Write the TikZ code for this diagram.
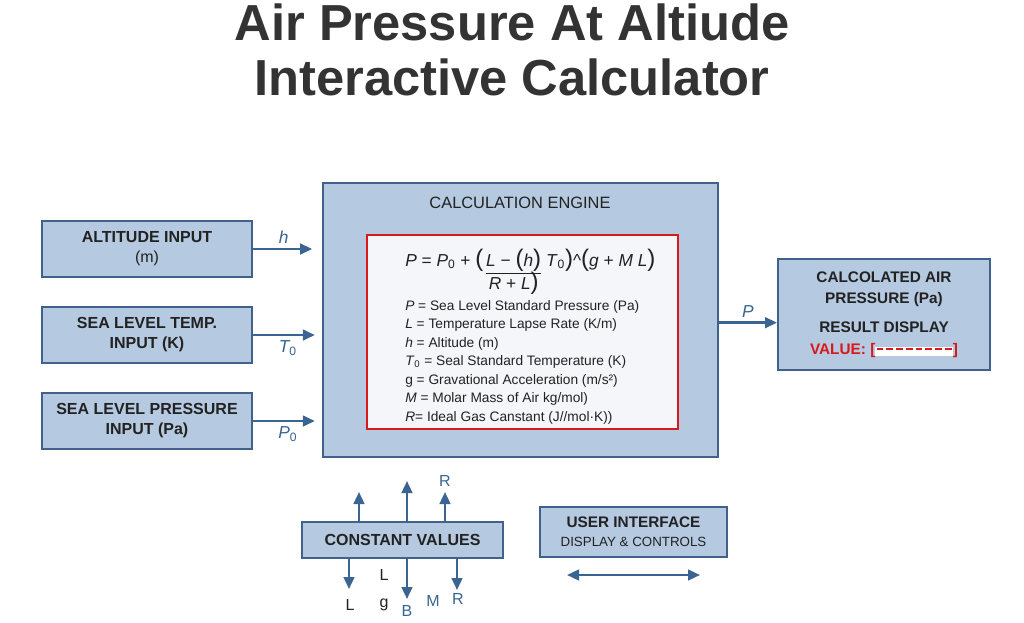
\documentclass[tikz,border=0pt]{standalone}
\usepackage{fontspec}
\setmainfont{Liberation Sans}
\usetikzlibrary{positioning,arrows.meta}

\definecolor{boxfill}{HTML}{B5C9E0}
\definecolor{boxline}{HTML}{3F618C}
\definecolor{flowblue}{HTML}{3A6592}
\definecolor{textdark}{HTML}{222222}
\definecolor{titlegray}{HTML}{333333}
\definecolor{formfill}{HTML}{F4F6FA}
\definecolor{redline}{HTML}{D7191C}

\newcommand\bigparen{\fontsize{18}{18}\selectfont}
\newcommand\dashbit{\rule[3.4pt]{5pt}{1.3pt}\kern2.3pt}

\begin{document}
\begin{tikzpicture}[
  x=0.75pt, y=-0.75pt,
  node distance=21pt,
  box/.style={draw=boxline, line width=1.5pt, fill=boxfill, align=center, inner sep=3pt, text=textdark},
  inbox/.style={box, minimum width=158pt, minimum height=42pt, font=\fontsize{12}{15}\selectfont\bfseries},
  flow/.style={-{Triangle[length=9pt,width=8pt]}, line width=1.8pt, draw=flowblue},
  lbl/.style={font=\fontsize{13}{15}\selectfont\itshape, text=flowblue},
  small/.style={font=\fontsize{12}{14}\selectfont, text=textdark},
  heading/.style={font=\fontsize{38}{41}\selectfont\bfseries, text=titlegray, anchor=base}
]
\useasboundingbox[fill=white] (0,0) rectangle (1024,622);

% title
\node[heading] (title) at (512,40) {Air Pressure At Altiude};
\node[heading] (subtitle) at (512,95) {Interactive Calculator};

% inputs
\node[inbox] (alt) at (147,249) {ALTITUDE INPUT\\\mdseries(m)};
\node[inbox, below=21pt of alt] (temp) {SEA LEVEL TEMP.\\INPUT (K)};
\node[inbox, below=21pt of temp] (pres) {SEA LEVEL PRESSURE\\INPUT (Pa)};

% engine
\node[box, minimum width=296pt, minimum height=205.5pt] (eng) at (520.5,320) {};
\node[font=\fontsize{12.3}{14}\selectfont, text=textdark] (engtitle) at (520,203) {CALCULATION ENGINE};
\node[draw=redline, line width=1.2pt, fill=formfill, minimum width=233pt, minimum height=145.5pt] (form) at (522.5,332) {};
\node[anchor=base west, inner sep=0, font=\fontsize{13}{15}\selectfont, text=textdark] (eq) at (405,266)
  {\textit{P} = \textit{P}\textsubscript{0} + {\bigparen(}\,\begin{tabular}[t]{@{}c@{}}\underline{\textit{L} − {\bigparen(}\textit{h}{\bigparen)}}\\[-1pt]\textit{R} + \textit{L}{\bigparen)}\end{tabular}\ \textit{T}\textsubscript{0}{\bigparen)}\textasciicircum{\bigparen(}\textit{g} + \textit{M} \textit{L}{\bigparen)}};
\node[anchor=north west, align=left, inner sep=0, font=\fontsize{10.3}{13.9}\selectfont, text=textdark] (legend) at (405,300)
  {\textit{P} = Sea Level Standard Pressure (Pa)\\
   \textit{L} = Temperature Lapse Rate (K/m)\\
   \textit{h} = Altitude (m)\\
   \textit{T}\textsubscript{0} = Seal Standard Temperature (K)\\
   g = Gravational Acceleration (m/s²)\\
   \textit{M} = Molar Mass of Air kg/mol)\\
   \textit{R}= Ideal Gas Canstant (J//mol·K))};

% result
\node[box, minimum width=159pt, minimum height=83pt, font=\fontsize{11.5}{16}\selectfont\bfseries] (res) at (884,314.5)
  {CALCOLATED AIR\\PRESSURE (Pa)\\[6pt]RESULT DISPLAY\\
   {\color{redline}VALUE: [{\fboxsep=1pt\colorbox{white}{\color{redline}\dashbit\dashbit\dashbit\dashbit\dashbit\dashbit\dashbit\rule[3.4pt]{5pt}{1.3pt}}}]}};

% bottom boxes
\node[box, minimum width=151pt, minimum height=27pt, font=\fontsize{12}{14}\selectfont\bfseries] (cv) at (402.5,540) {CONSTANT VALUES};
\node[box, minimum width=140pt, minimum height=37.5pt, font=\fontsize{11.5}{14}\selectfont\bfseries] (ui) at (633.5,532)
  {USER INTERFACE\\{\mdseries\fontsize{10}{12}\selectfont DISPLAY \& CONTROLS}};

% connectors
\draw[flow, shorten >=7.5pt] (alt.east) -- (alt.east -| eng.west) node[lbl, midway, above, xshift=-3pt] {h};
\draw[flow, shorten >=5.5pt] (temp.east) -- (temp.east -| eng.west) node[lbl, midway, below] {T\textsubscript{\upshape 0}};
\draw[flow, shorten >=5.5pt] (pres.east) -- (pres.east -| eng.west) node[lbl, midway, below] {P\textsubscript{\upshape 0}};
\draw[flow] ([yshift=-2pt]eng.east) -- ([yshift=-2pt]eng.east -| res.west) node[lbl, midway, above] {P};

% constant arrows
\foreach \i/\x/\y in {1/359/492, 2/407/481, 3/445/492}{
  \coordinate (up\i) at (\x,\y);
  \draw[flow] (cv.north -| up\i) -- (up\i);
}
\foreach \i/\x/\y in {1/349/589, 2/407/599, 3/457/590}{
  \coordinate (dn\i) at (\x,\y);
  \draw[flow] (cv.south -| dn\i) -- (dn\i);
}
\node[small, text=flowblue] (rtop) at (445,481) {R};
\node[small] (l1) at (384,575) {L};
\node[small] (l2) at (350,605) {L};
\node[small] (g1) at (384,605) {g};
\node[small, text=flowblue] (b1) at (407,611) {B};
\node[small, text=flowblue] (m1) at (433,601) {M};
\node[small, text=flowblue] (r2) at (458,599) {R};

% interface arrow
\coordinate (uiL) at (567,575);
\coordinate (uiR) at (700,575);
\draw[flow, {Triangle[length=9pt,width=8pt]}-{Triangle[length=9pt,width=8pt]}] (uiL) -- (uiR);
\end{tikzpicture}
\end{document}
